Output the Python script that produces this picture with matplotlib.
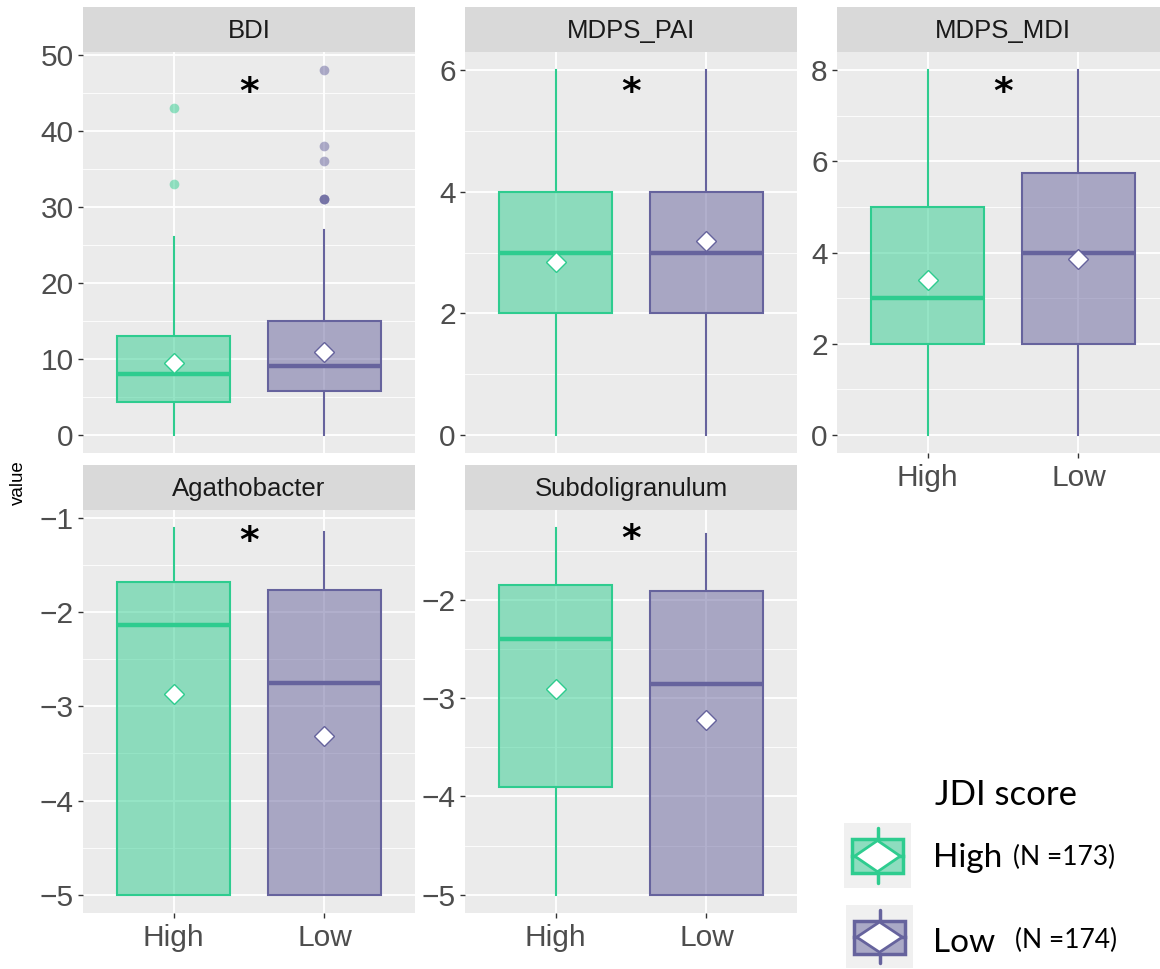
import matplotlib
matplotlib.use("Agg")
import matplotlib.pyplot as plt
from matplotlib.colors import to_rgba
from matplotlib.patches import Rectangle, Polygon

plt.rcParams['font.family'] = ['Liberation Sans', 'DejaVu Sans']

# data
panels = ["BDI", "MDPS_PAI", "MDPS_MDI", "Agathobacter", "Subdoligranulum"]
groups = ["High", "Low"]
group_n = [173, 174]

whislo_high = [0, 0, 0, -5, -5]
q1_high = [4.25, 2, 2, -5, -3.90]
med_high = [8, 3, 3, -2.14, -2.40]
q3_high = [13, 4, 5, -1.68, -1.85]
whishi_high = [26, 6, 8, -1.11, -1.27]
mean_high = [9.5, 2.85, 3.4, -2.87, -2.91]
fliers_high = [[33, 43], [], [], [], []]

whislo_low = [0, 0, 0, -5, -5]
q1_low = [5.75, 2, 2, -5, -5]
med_low = [9, 3, 4, -2.75, -2.855]
q3_low = [15, 4, 5.75, -1.77, -1.91]
whishi_low = [27, 6, 8, -1.15, -1.33]
mean_low = [10.85, 3.19, 3.86, -3.31, -3.22]
fliers_low = [[31, 31, 31, 36, 38, 48], [], [], [], []]

y_ticks = [[0, 10, 20, 30, 40, 50], [0, 2, 4, 6], [0, 2, 4, 6, 8],
           [-5, -4, -3, -2, -1], [-5, -4, -3, -2]]
y_minor = [[5, 15, 25, 35, 45], [1, 3, 5], [1, 3, 5, 7],
           [-4.5, -3.5, -2.5, -1.5], [-4.5, -3.5, -2.5, -1.5]]
star_y = [45.0, 5.62, 7.5, -1.25, -1.39]

colors = ["#2ECC8F", "#66639D"]

W, H = 1160, 969
fig = plt.figure(figsize=(W / 100, H / 100), dpi=100)

# panel boxes in pixels: left, top, width, height
panel_px = [(83, 52, 332, 401), (465, 52, 332, 401), (837, 52, 332, 401),
            (83, 510, 332, 403), (465, 510, 332, 403)]
strip_h = 45
show_x = [False, False, True, True, True]


def px_axes(l, t, w, h):
    return fig.add_axes([l / W, 1 - (t + h) / H, w / W, h / H])


for i, name in enumerate(panels):
    l, t, w, h = panel_px[i]
    ax = px_axes(l, t, w, h)
    ax.set_facecolor("#EBEBEB")
    stats = []
    for lo, a, m, b, hi, mu, fl, g in [
        (whislo_high[i], q1_high[i], med_high[i], q3_high[i], whishi_high[i], mean_high[i], fliers_high[i], groups[0]),
        (whislo_low[i], q1_low[i], med_low[i], q3_low[i], whishi_low[i], mean_low[i], fliers_low[i], groups[1]),
    ]:
        stats.append(dict(whislo=lo, q1=a, med=m, q3=b, whishi=hi, mean=mu, fliers=fl, label=g))
    bp = ax.bxp(stats, positions=[1, 2], widths=0.75, patch_artist=True,
                showmeans=True, showcaps=False, manage_ticks=False)
    for j, c in enumerate(colors):
        bp['boxes'][j].set_facecolor(to_rgba(c, 0.5))
        bp['boxes'][j].set_edgecolor(c)
        bp['boxes'][j].set_linewidth(1.5)
        for wk in bp['whiskers'][2 * j:2 * j + 2]:
            wk.set_color(c)
            wk.set_linewidth(1.5)
        bp['medians'][j].set_color(c)
        bp['medians'][j].set_linewidth(3.2)
        bp['means'][j].set(marker='D', markerfacecolor='white', markeredgecolor=c,
                           markersize=10, markeredgewidth=1.0, zorder=5)
        bp['fliers'][j].set(marker='o', markerfacecolor=to_rgba(c, 0.5),
                            markeredgecolor='none', markersize=7)

    ax.text(1.5, star_y[i], "*", ha='center', va='center', fontsize=27,
            fontweight='bold', color='black', family=['DejaVu Sans'])

    ax.set_xlim(0.4, 2.6)
    lo = min(whislo_high[i], whislo_low[i], *(fliers_high[i] + fliers_low[i]))
    hi = max(whishi_high[i], whishi_low[i], *(fliers_high[i] + fliers_low[i]))
    pad = (hi - lo) * 0.05
    ax.set_ylim(lo - pad, hi + pad)

    ax.set_yticks(y_ticks[i])
    ax.set_yticks(y_minor[i], minor=True)
    ax.set_xticks([1, 2])
    ax.set_xticks([], minor=True)
    ax.grid(True, which='major', color='white', linewidth=1.3)
    ax.grid(True, which='minor', axis='y', color='white', linewidth=0.6)
    ax.set_axisbelow(True)
    for s in ax.spines.values():
        s.set_visible(False)
    ax.tick_params(axis='y', which='major', labelsize=21.5, labelcolor='#4D4D4D',
                   color='#333333', length=3.7, width=1, pad=3)
    ax.tick_params(which='minor', length=0)
    if show_x[i]:
        ax.set_xticklabels(groups)
        ax.tick_params(axis='x', labelsize=21.5, labelcolor='#4D4D4D',
                       color='#333333', length=3.7, width=1, pad=4)
    else:
        ax.tick_params(axis='x', length=0, labelbottom=False)

    sax = px_axes(l, t - strip_h, w, strip_h)
    sax.set_facecolor("#D9D9D9")
    sax.set_xticks([])
    sax.set_yticks([])
    for s in sax.spines.values():
        s.set_visible(False)
    sax.text(0.5, 0.47, name, ha='center', va='center', fontsize=18.5, color='#1A1A1A',
             transform=sax.transAxes)

fig.text(18 / W, 1 - 483 / H, "value", rotation=90, ha='center', va='center',
         fontsize=13.5, color='black')

# legend
lf = ['Lato', 'DejaVu Sans']
fig.text(935 / W, 1 - 805 / H, "JDI score", fontsize=25, family=lf, va='baseline', ha='left')
key_px = [(844, 823, 67, 65), (846, 905, 67, 63)]
label_base = [867, 952]
n_x = [1013, 1015]
n_base = [865, 948]
for j, c in enumerate(colors):
    l, t, w, h = key_px[j]
    kax = px_axes(l, t, w, h)
    kax.set_facecolor("#F0F0F0")
    kax.set_xlim(0, 1)
    kax.set_ylim(0, 1)
    kax.set_xticks([])
    kax.set_yticks([])
    for s in kax.spines.values():
        s.set_visible(False)
    kax.plot([0.5, 0.5], [0.08, 0.23], color=c, lw=2.5, solid_capstyle='round')
    kax.plot([0.5, 0.5], [0.75, 0.92], color=c, lw=2.5, solid_capstyle='round')
    kax.add_patch(Rectangle((0.12, 0.23), 0.76, 0.52, facecolor=to_rgba(c, 0.5),
                            edgecolor=c, lw=2.5))
    kax.plot([0.12, 0.88], [0.49, 0.49], color=c, lw=2.5)
    kax.add_patch(Polygon([(0.5, 0.25), (0.84, 0.49), (0.5, 0.73), (0.16, 0.49)],
                          closed=True, facecolor='white', edgecolor=c, lw=2, zorder=5))
    fig.text(933 / W, 1 - label_base[j] / H, groups[j], fontsize=24, family=lf,
             va='baseline', ha='left')
    fig.text(n_x[j] / W, 1 - n_base[j] / H, "(N =%d)" % group_n[j], fontsize=19,
             family=lf, va='baseline', ha='left')

fig.savefig("out.png", dpi=100)
